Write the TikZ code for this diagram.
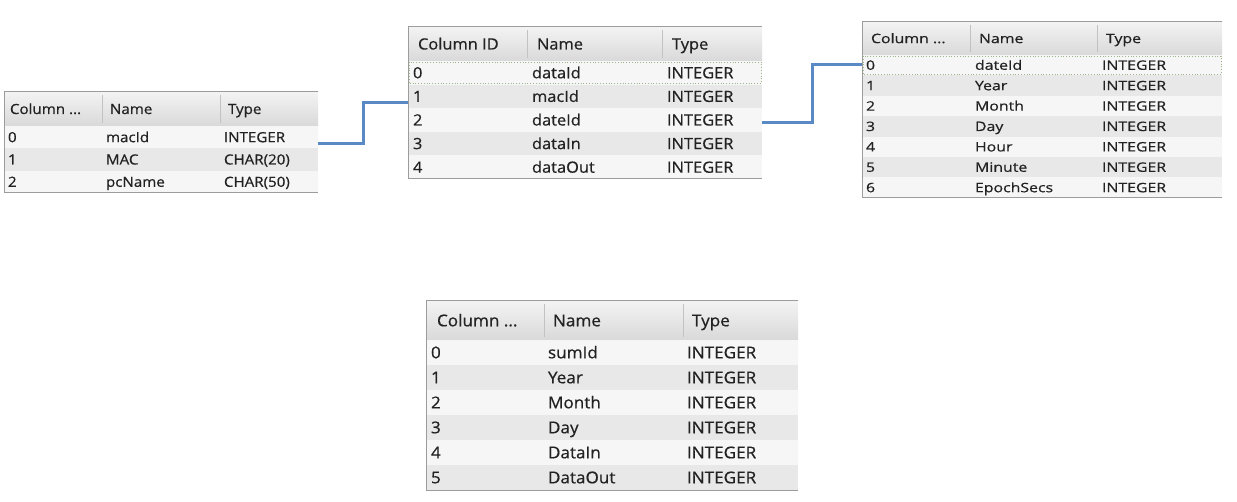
\documentclass[tikz,border=0pt]{standalone}
\usepackage{fontspec}
\setmainfont{Open Sans}
\newfontfamily\fA{Open Sans}[FakeStretch=1.08,FakeBold=0.6]
\newfontfamily\fB{Open Sans}[FakeStretch=1.06,FakeBold=0.6]
\newfontfamily\fC{Open Sans}[FakeStretch=1.22,FakeBold=0.6]
\newfontfamily\fD{Open Sans}[FakeStretch=1.05,FakeBold=0.6]
\usetikzlibrary{calc}
\definecolor{hdtop}{HTML}{F3F3F3}
\definecolor{hdbot}{HTML}{D9D9D9}
\definecolor{rowA}{HTML}{F6F6F6}
\definecolor{rowB}{HTML}{E8E8E8}
\definecolor{bord}{HTML}{9C9C9C}
\definecolor{sepc}{HTML}{C2C2C2}
\definecolor{txt}{HTML}{222222}
\definecolor{focusc}{HTML}{9CB58A}
\definecolor{linkc}{HTML}{5A8AC6}
\tikzset{
 rowbox/.style={draw=none, inner sep=0pt, outer sep=0pt, anchor=north west},
 cell/.style={inner sep=0pt, outer sep=0pt, anchor=base west, text=txt, font=\tabfont},
 border/.style={draw=bord, line width=1pt},
 hsep/.style={draw=sepc, line width=0.8pt},
 focus/.style={draw=focusc, dotted, line width=0.8pt},
 link/.style={draw=linkc, line width=3pt},
}
% #1 name, [left,top,right,headerbottom,rowheight,sep1,sep2], #9 rows
\def\dbtable#1[#2,#3,#4,#5,#6,#7,#8]#9{%
  \path[top color=hdtop, bottom color=hdbot] (#2,#3) rectangle (#4,#5);
  \draw[hsep] (#7,#3+3) -- (#7,#5-3);
  \draw[hsep] (#8,#3+3) -- (#8,#5-3);
  \draw[draw=sepc, line width=0.6pt] (#2,#5) -- (#4,#5);
  \node[cell] (#1hA) at (#2+\hpadA, {(#3+#5)/2+\bo}) {\hcol};
  \node[cell] (#1hB) at (#7+\hpad, {(#3+#5)/2+\bo}) {Name};
  \node[cell] (#1hC) at (#8+\hpad, {(#3+#5)/2+\bo}) {Type};
  \foreach \nm/\ty [count=\k from 0] in {#9} {
    \pgfmathsetmacro\ya{#5+\k*#6}
    \ifodd\k\relax \def\rc{rowB}\else \def\rc{rowA}\fi
    \node[rowbox, fill=\rc, minimum width={#4-#2}, minimum height=#6] (#1r\k) at (#2,\ya) {};
    \node[cell] (#1r\k a) at (#2+\dpadA, \ya+#6/2+\bo) {\k};
    \node[cell] (#1r\k b) at (#7+\dpad, \ya+#6/2+\bo) {\nm};
    \node[cell] (#1r\k c) at (#8+\dpad, \ya+#6/2+\bo) {\ty};
    \xdef\lastk{\k}
  }
  \pgfmathsetmacro\yb{#5+(\lastk+1)*#6}
  \draw[border] (#4,#3) -- (#2,#3) -- (#2,\yb) -- (#4,\yb);
}
\begin{document}
\begin{tikzpicture}[x=1pt,y=-1pt]
\useasboundingbox[fill=white] (0,0) rectangle (1237,502);

% Table 1
\def\tabfont{\fA\fontsize{14}{16}\selectfont}
\def\bo{5}\def\hpadA{6}\def\hpad{8}\def\dpadA{4}\def\dpad{4}\def\hcol{Column ...}
\dbtable{T1}[4,92,318,126,22.33,102,220]{macId/INTEGER, MAC/CHAR(20), pcName/CHAR(50)}

% Table 2
\def\tabfont{\fB\fontsize{15.5}{17}\selectfont}
\def\bo{5.5}\def\hpadA{10}\def\hpad{10}\def\dpadA{5}\def\dpad{5}\def\hcol{Column ID}
\dbtable{T2}[408,27,762,61,23.6,527,662]{dataId/INTEGER, macId/INTEGER, dateId/INTEGER, dataIn/INTEGER, dataOut/INTEGER}
\draw[focus] ([shift={(1pt,-1pt)}]T2r0.north west) rectangle ([shift={(-1pt,1pt)}]T2r0.south east);

% Table 3
\def\tabfont{\fC\fontsize{13}{15}\selectfont}
\def\bo{4.6}\def\hpadA{9}\def\hpad{9}\def\dpadA{4}\def\dpad{5}\def\hcol{Column ...}
\dbtable{T3}[862,22,1222,55,20.4,970,1097]{dateId/INTEGER, Year/INTEGER, Month/INTEGER, Day/INTEGER, Hour/INTEGER, Minute/INTEGER, EpochSecs/INTEGER}
\draw[focus] ([shift={(1pt,-1pt)}]T3r0.north west) rectangle ([shift={(-1pt,1pt)}]T3r0.south east);

% Table 4
\def\tabfont{\fD\fontsize{16.3}{18}\selectfont}
\def\bo{5.8}\def\hpadA{11}\def\hpad{9}\def\dpadA{5}\def\dpad{4}\def\hcol{Column ...}
\dbtable{T4}[426,301,798,340,25,544,683]{sumId/INTEGER, Year/INTEGER, Month/INTEGER, Day/INTEGER, DataIn/INTEGER, DataOut/INTEGER}

% connectors
\draw[link] ([yshift=-6pt]T1r0.east) -| ($([yshift=-6pt]T1r0.east)!0.5!([yshift=-6.6pt]T2r1.west)$) |- ([yshift=-6.6pt]T2r1.west);
\draw[link] ([yshift=-3pt]T2r2.east) -| ($([yshift=-3pt]T2r2.east)!0.5!([yshift=1pt]T3r0.west)$) |- ([yshift=1pt]T3r0.west);
\end{tikzpicture}
\end{document}
